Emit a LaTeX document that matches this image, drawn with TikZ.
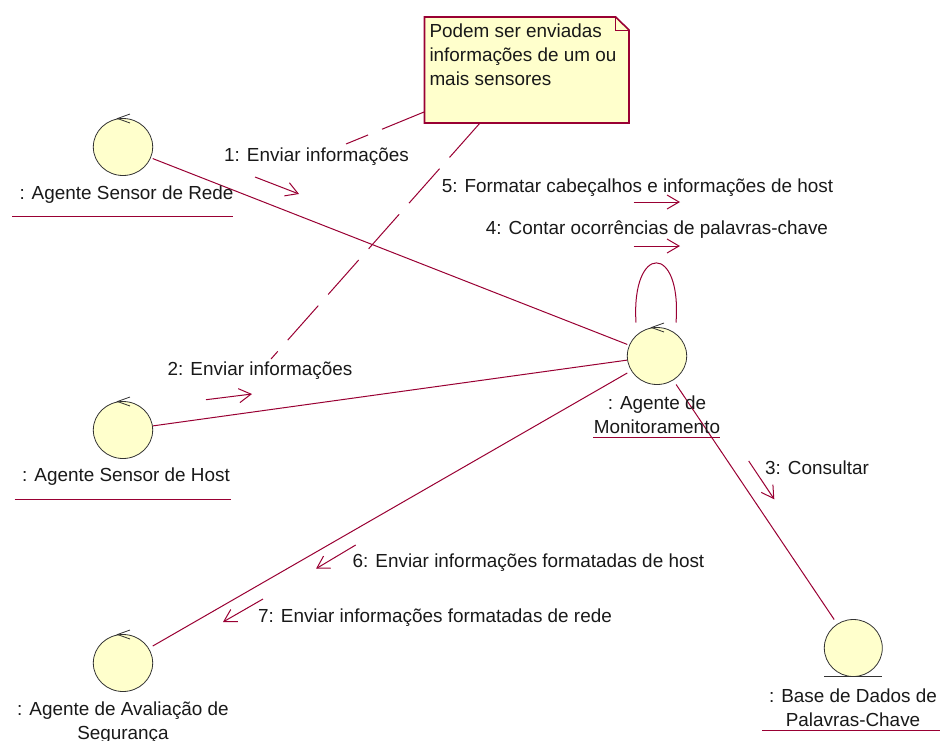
\documentclass[tikz,border=0pt]{standalone}
\usepackage{fontspec}
\setmainfont{Liberation Sans}
\usepackage{xcolor}
\usetikzlibrary{arrows.meta}
\definecolor{umlline}{HTML}{990033}
\definecolor{umlfill}{HTML}{FFFFCC}
\tikzset{
    agent/.style={rectangle,minimum width=59.4pt,minimum height=57pt,inner sep=0pt,outer sep=0pt},
    disc/.style={fill=umlfill,draw=black!80,line width=0.8pt},
    link/.style={draw=umlline,line width=1pt},
    notelink/.style={link,dash pattern=on 46pt off 15pt},
    msg/.style={link,-{Straight Barb[length=12pt,width=14pt,line width=1pt]}},
    cue/.style={draw=black!80,line width=0.8pt},
    txt/.style={inner sep=0pt,outer sep=0pt,text=black!90,font=\fontsize{18.9}{24.2}\selectfont,align=center},
}
\begin{document}
\begin{tikzpicture}[x=1pt,y=-1pt]
    \useasboundingbox (0,0) rectangle (940,740);

    %===========================
    % Note
    %===========================
    \draw[link,fill=umlfill,line width=1.6pt] (424.5,17) -- (615.7,17) -- (629,30) -- (629,123) -- (424.5,123) -- cycle;
    \draw[link] (615.7,17) -- (615.7,30) -- (629,30);
    \node (Note) at (526.75,70) [minimum width=204.5pt,minimum height=106pt,inner sep=0pt,outer sep=0pt]{};
    \node (NoteText) at (429.5,54.5) [txt,anchor=west,align=left]{Podem ser enviadas\\informações de um ou\\mais sensores};

    %===========================
    % Agents
    %===========================
    \node (Rede) at (123,147) [agent]{};
    \node (Host) at (123,430) [agent]{};
    \node (Aval) at (123,663) [agent]{};
    \node (Mon) at (657,356) [agent]{};
    \node (Base) at (853.3,648) [agent,minimum width=58pt]{};

    %===========================
    % Links
    %===========================
    \draw[link] (Rede) -- (Mon);
    \draw[link] (Host) -- (Mon);
    \draw[link] (Aval) -- (Mon);
    \draw[link] (Mon) -- (Base);

    \coordinate (LoopL) at (636,322.5);
    \coordinate (LoopR) at (676,322.5);
    \draw[link] (LoopL) .. controls (631,243) and (682,243) .. (LoopR);

    \coordinate (NoteA) at (346,144);
    \coordinate (NoteB) at (271,359);
    \draw[notelink] (Note) -- (NoteA);
    \draw[notelink] (Note) -- (NoteB);

    % Discs, with the small barbs on the control objects
    \foreach \ag in {Rede,Host,Aval,Mon}{
        \draw[disc] (\ag) ellipse [x radius=29.7,y radius=28.5];
        \draw[cue] ([xshift=7pt,yshift=4.5pt]\ag.north) -- ([xshift=-5.5pt]\ag.north) -- ([xshift=7pt,yshift=-4.5pt]\ag.north);
    }
    \draw[disc] (Base) ellipse [x radius=29,y radius=28.5];
    \draw[cue] (Base.south west) -- (Base.south east);

    %===========================
    % Labels and underlines
    %===========================
    \node (RedeText) at (126.5,195) [txt]{: Agente Sensor de Rede};
    \draw[link] (12,216.5) -- (233,216.5);
    \node (HostText) at (126,477) [txt]{: Agente Sensor de Host};
    \draw[link] (14.5,499) -- (231,499);
    \node (AvalText) at (123,723) [txt]{: Agente de Avaliação de\\Segurança};
    \node (MonText) at (657,415) [txt]{: Agente de\\Monitoramento};
    \draw[link] (593,437) -- (720,437);
    \node (BaseText) at (853,708) [txt]{: Base de Dados de\\Palavras-Chave};
    \draw[link] (762,730) -- (940,730);

    %===========================
    % Messages
    %===========================
    \node (M1) at (316.5,157) [txt]{1: Enviar informações};
    \coordinate (M1a) at (255,177);
    \coordinate (M1b) at (299,194);
    \draw[msg] (M1a) -- (M1b);

    \node (M2) at (260,371) [txt]{2: Enviar informações};
    \coordinate (M2a) at (206,399.7);
    \coordinate (M2b) at (252,394);
    \draw[msg] (M2a) -- (M2b);

    \node (M3) at (817,468) [txt]{3: Consultar};
    \coordinate (M3a) at (748.7,461);
    \coordinate (M3b) at (774.3,499.3);
    \draw[msg] (M3a) -- (M3b);

    \node (M4) at (657,230) [txt]{4: Contar ocorrências de palavras-chave};
    \coordinate (M4a) at (633.7,246);
    \coordinate (M4b) at (680,246);
    \draw[msg] (M4a) -- (M4b);

    \node (M5) at (637.5,188) [txt]{5: Formatar cabeçalhos e informações de host};
    \coordinate (M5a) at (633.7,202);
    \coordinate (M5b) at (680,202);
    \draw[msg] (M5a) -- (M5b);

    \node (M6) at (528.5,563) [txt]{6: Enviar informações formatadas de host};
    \coordinate (M6a) at (355.7,545);
    \coordinate (M6b) at (316,568.7);
    \draw[msg] (M6a) -- (M6b);

    \node (M7) at (435,618) [txt]{7: Enviar informações formatadas de rede};
    \coordinate (M7a) at (263,599);
    \coordinate (M7b) at (223,622);
    \draw[msg] (M7a) -- (M7b);
\end{tikzpicture}
\end{document}
